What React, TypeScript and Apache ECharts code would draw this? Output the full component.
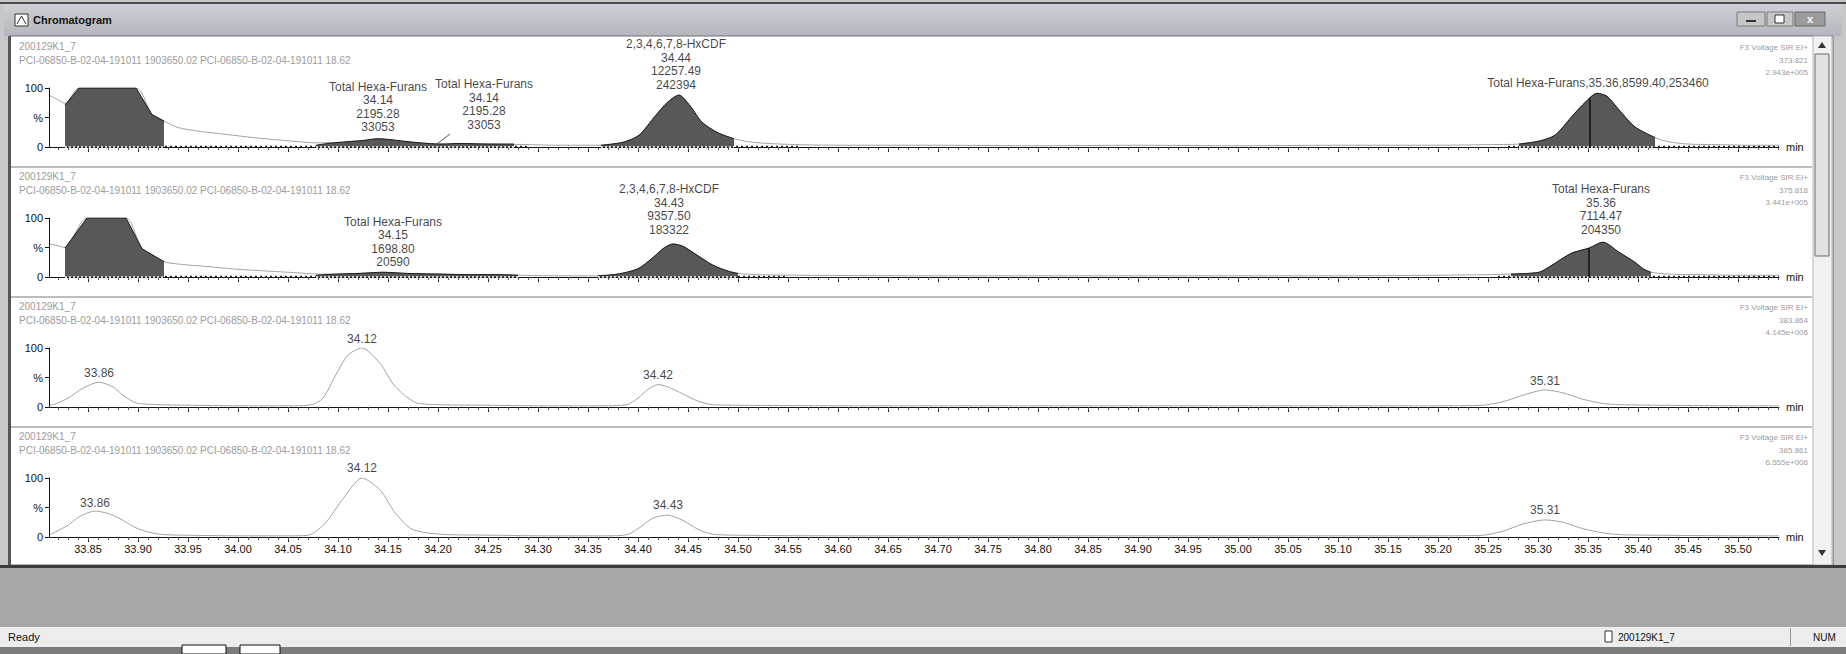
import React, { useEffect, useRef } from "react";
import * as echarts from "echarts";

// ---------- axis ----------
const X_MIN = 33.811;
const X_MAX = 35.541;
const xTickValues = [33.85, 33.9, 33.95, 34.0, 34.05, 34.1, 34.15, 34.2, 34.25, 34.3, 34.35, 34.4, 34.45, 34.5, 34.55, 34.6, 34.65, 34.7, 34.75, 34.8, 34.85, 34.9, 34.95, 35.0, 35.05, 35.1, 35.15, 35.2, 35.25, 35.3, 35.35, 35.4, 35.45, 35.5];
const xTickLabels = ["33.85", "33.90", "33.95", "34.00", "34.05", "34.10", "34.15", "34.20", "34.25", "34.30", "34.35", "34.40", "34.45", "34.50", "34.55", "34.60", "34.65", "34.70", "34.75", "34.80", "34.85", "34.90", "34.95", "35.00", "35.05", "35.10", "35.15", "35.20", "35.25", "35.30", "35.35", "35.40", "35.45", "35.50"];
const yTickValues = [0, 50, 100];
const yTickLabels = ["0", "%", "100"];

// ---------- panel headers ----------
const panelSample = ["200129K1_7", "200129K1_7", "200129K1_7", "200129K1_7"];
const panelFile = [
  "PCI-06850-B-02-04-191011 1903650.02 PCI-06850-B-02-04-191011 18.62",
  "PCI-06850-B-02-04-191011 1903650.02 PCI-06850-B-02-04-191011 18.62",
  "PCI-06850-B-02-04-191011 1903650.02 PCI-06850-B-02-04-191011 18.62",
  "PCI-06850-B-02-04-191011 1903650.02 PCI-06850-B-02-04-191011 18.62",
];
const panelFunction = ["F3 Voltage SIR EI+", "F3 Voltage SIR EI+", "F3 Voltage SIR EI+", "F3 Voltage SIR EI+"];
const panelMass = ["373.821", "375.818", "383.864", "385.861"];
const panelIntensity = ["2.943e+005", "3.441e+005", "4.145e+006", "6.555e+006"];

// ---------- panel 1 (m/z 373.821) ----------
const p1Trace = [
  [33.812, 87], [33.82, 80], [33.827, 74], [33.841, 100], [33.898, 100], [33.914, 55], [33.926, 44],
  [33.94, 33], [33.96, 27], [33.985, 22], [34.015, 16], [34.04, 12], [34.06, 9], [34.078, 7],
  [34.1, 8], [34.125, 11], [34.14, 14], [34.16, 11], [34.18, 7], [34.205, 5], [34.23, 6], [34.26, 5], [34.29, 4],
  [34.32, 3], [34.345, 3], [34.363, 3], [34.385, 8], [34.401, 20], [34.417, 52], [34.429, 75], [34.441, 88],
  [34.452, 70], [34.464, 42], [34.48, 24], [34.496, 14], [34.51, 9], [34.53, 6], [34.56, 4], [34.6, 3],
  [34.7, 3], [34.8, 2], [34.9, 3], [35.0, 2], [35.1, 3], [35.2, 3], [35.25, 4],
  [35.281, 5], [35.301, 10], [35.317, 20], [35.333, 50], [35.345, 72], [35.359, 91], [35.369, 86],
  [35.381, 63], [35.397, 34], [35.417, 16], [35.43, 9], [35.45, 5], [35.48, 4], [35.51, 3], [35.541, 3],
];
const p1FillSolvent = [[33.827, 71], [33.841, 100], [33.898, 100], [33.914, 55], [33.926, 44]];
const p1FillHump = [[34.078, 3], [34.09, 6], [34.11, 9], [34.125, 11], [34.14, 14], [34.155, 12], [34.17, 9], [34.19, 6], [34.205, 5], [34.22, 6], [34.25, 5], [34.276, 5]];
const p1FillHx = [[34.363, 3], [34.385, 8], [34.401, 20], [34.417, 52], [34.429, 75], [34.441, 88], [34.452, 70], [34.464, 42], [34.48, 24], [34.496, 14]];
const p1FillTotal = [[35.281, 5], [35.301, 10], [35.317, 20], [35.333, 50], [35.345, 72], [35.359, 91], [35.369, 86], [35.381, 63], [35.397, 34], [35.417, 16]];
const p1Baselines = [[33.827, 34.29], [34.363, 34.56], [35.27, 35.541]];
const p1Apex = [[35.352, 82]];
const p1Marks = [[[34.198, 4], [34.212, 22]]];
const p1Labels = [
  { t: 34.14, v: 14, d: 4, text: "Total Hexa-Furans\n34.14\n2195.28\n33053" },
  { t: 34.246, v: 20, d: 3, text: "Total Hexa-Furans\n34.14\n2195.28\n33053" },
  { t: 34.438, v: 88, d: 3, text: "2,3,4,6,7,8-HxCDF\n34.44\n12257.49\n242394" },
  { t: 35.36, v: 91, d: 3, text: "Total Hexa-Furans,35.36,8599.40,253460" },
];

// ---------- panel 2 (m/z 375.818) ----------
const p2Trace = [
  [33.812, 56], [33.82, 53], [33.827, 50], [33.849, 100], [33.888, 100], [33.904, 48], [33.926, 26],
  [33.94, 22], [33.96, 19], [33.98, 16], [34.0, 13], [34.02, 11], [34.04, 9], [34.06, 7], [34.078, 5],
  [34.1, 5], [34.12, 6], [34.145, 8], [34.17, 6], [34.2, 5], [34.23, 4], [34.26, 4], [34.28, 3], [34.32, 2],
  [34.36, 2], [34.38, 5], [34.4, 14], [34.415, 33], [34.425, 48], [34.435, 56], [34.445, 52], [34.46, 36],
  [34.475, 20], [34.49, 10], [34.5, 6], [34.52, 4], [34.56, 3], [34.7, 2], [34.9, 2], [35.1, 2], [35.2, 3],
  [35.25, 4], [35.273, 5], [35.301, 8], [35.313, 19], [35.333, 40], [35.351, 49], [35.365, 59], [35.381, 42],
  [35.397, 25], [35.405, 14], [35.413, 8], [35.43, 5], [35.46, 4], [35.5, 3], [35.541, 3],
];
const p2FillSolvent = [[33.827, 49], [33.849, 100], [33.888, 100], [33.904, 48], [33.926, 26]];
const p2FillHump = [[34.078, 3], [34.1, 5], [34.12, 6], [34.145, 8], [34.17, 6], [34.2, 5], [34.23, 4], [34.26, 4], [34.28, 3]];
const p2FillHx = [[34.36, 2], [34.38, 5], [34.4, 14], [34.415, 33], [34.425, 48], [34.435, 56], [34.445, 52], [34.46, 36], [34.475, 20], [34.49, 10], [34.5, 6]];
const p2FillTotal = [[35.273, 5], [35.301, 8], [35.313, 19], [35.333, 40], [35.351, 49], [35.365, 59], [35.381, 42], [35.397, 25], [35.405, 14], [35.413, 8]];
const p2Baselines = [[33.827, 34.28], [34.36, 34.55], [35.26, 35.541]];
const p2Apex = [[35.351, 49]];
const p2Marks: number[][][] = [];
const p2Labels = [
  { t: 34.155, v: 8, d: 3, text: "Total Hexa-Furans\n34.15\n1698.80\n20590" },
  { t: 34.431, v: 56, d: 7, text: "2,3,4,6,7,8-HxCDF\n34.43\n9357.50\n183322" },
  { t: 35.363, v: 59, d: 5, text: "Total Hexa-Furans\n35.36\n7114.47\n204350" },
];

// ---------- panel 3 (m/z 383.864) ----------
const p3Trace = [
  [33.812, 3], [33.817, 5], [33.83, 15], [33.845, 32], [33.861, 42], [33.875, 34], [33.885, 20], [33.898, 7],
  [33.92, 4], [33.95, 3], [34.0, 2], [34.05, 2], [34.074, 4], [34.085, 15], [34.098, 55], [34.11, 88],
  [34.124, 100], [34.142, 74], [34.157, 35], [34.177, 8], [34.2, 4], [34.25, 3], [34.3, 2], [34.36, 2],
  [34.389, 4], [34.4, 15], [34.41, 30], [34.42, 38], [34.43, 34], [34.445, 22], [34.46, 10], [34.474, 4],
  [34.5, 3], [34.6, 2], [34.7, 2], [34.8, 2], [34.9, 2], [35.0, 2], [35.1, 2], [35.2, 2], [35.245, 3],
  [35.265, 9], [35.285, 20], [35.307, 29], [35.325, 24], [35.345, 13], [35.365, 6], [35.381, 4], [35.42, 3],
  [35.5, 2], [35.541, 2],
];
const p3Labels = [
  { t: 33.861, v: 42, d: 2, text: "33.86" },
  { t: 34.124, v: 100, d: 2, text: "34.12" },
  { t: 34.42, v: 38, d: 2, text: "34.42" },
  { t: 35.307, v: 29, d: 2, text: "35.31" },
];

// ---------- panel 4 (m/z 385.861) ----------
const p4Trace = [
  [33.812, 4], [33.817, 8], [33.83, 20], [33.841, 34], [33.857, 44], [33.87, 40], [33.881, 32], [33.9, 14],
  [33.92, 5], [33.95, 3], [34.0, 2], [34.05, 2], [34.07, 3], [34.086, 21], [34.106, 67], [34.124, 100],
  [34.142, 80], [34.157, 41], [34.173, 14], [34.189, 7], [34.21, 4], [34.26, 3], [34.3, 2], [34.37, 2],
  [34.389, 4], [34.4, 14], [34.415, 32], [34.43, 37], [34.445, 28], [34.46, 13], [34.474, 5], [34.5, 3],
  [34.6, 2], [34.8, 2], [35.0, 2], [35.2, 2], [35.245, 3], [35.265, 10], [35.285, 22], [35.307, 29],
  [35.325, 25], [35.345, 14], [35.365, 7], [35.381, 4], [35.42, 3], [35.5, 2], [35.541, 2],
];
const p4Labels = [
  { t: 33.857, v: 44, d: 1, text: "33.86" },
  { t: 34.124, v: 100, d: 3, text: "34.12" },
  { t: 34.43, v: 37, d: 3, text: "34.43" },
  { t: 35.307, v: 29, d: 3, text: "35.31" },
];

const FONT = "'Liberation Sans', Arial, sans-serif";
const PLOT_LEFT = 49;
const PLOT_W = 1730;
const PANEL_TOP = 88;
const PANEL_PITCH = 130;
const PLOT_H = 59;

const xMinorTicks = Array.from({ length: 173 }, (_, i) => Math.round((33.82 + i * 0.01) * 100) / 100).filter(
  (v) => v <= X_MAX
);

function tickLabel(v: number) {
  const i = xTickValues.findIndex((t) => Math.abs(t - v) < 1e-6);
  return i >= 0 ? xTickLabels[i] : "";
}

function buildOption() {
  const panels = [
    { trace: p1Trace, fills: [p1FillSolvent, p1FillHump, p1FillHx, p1FillTotal], baselines: p1Baselines, apex: p1Apex, marks: p1Marks, labels: p1Labels },
    { trace: p2Trace, fills: [p2FillSolvent, p2FillHump, p2FillHx, p2FillTotal], baselines: p2Baselines, apex: p2Apex, marks: p2Marks, labels: p2Labels },
    { trace: p3Trace, fills: [], baselines: [], apex: [], marks: [], labels: p3Labels },
    { trace: p4Trace, fills: [], baselines: [], apex: [], marks: [], labels: p4Labels },
  ];

  const grid: any[] = [];
  const xAxis: any[] = [];
  const yAxis: any[] = [];
  const series: any[] = [];

  panels.forEach((p, k) => {
    grid.push({ left: PLOT_LEFT, width: PLOT_W, top: PANEL_TOP + PANEL_PITCH * k, height: PLOT_H });
    xAxis.push({
      gridIndex: k,
      type: "value",
      min: X_MIN,
      max: X_MAX,
      position: "bottom",
      axisLine: { show: true, onZero: false, lineStyle: { color: "#111", width: 1 } },
      axisTick: { show: true, customValues: xTickValues, length: 5, lineStyle: { color: "#222" } },
      axisLabel: {
        show: k === 3,
        customValues: xTickValues,
        formatter: (v: number) => tickLabel(v),
        fontSize: 11,
        color: "#111",
        fontFamily: FONT,
        margin: 6,
      },
      splitLine: { show: false },
      name: "min",
      nameLocation: "end",
      nameGap: 7,
      nameTextStyle: { fontSize: 11, color: "#111", fontFamily: FONT },
    });
    xAxis.push({
      gridIndex: k,
      type: "value",
      min: X_MIN,
      max: X_MAX,
      position: "bottom",
      axisLine: { show: false },
      axisTick: { show: true, customValues: xMinorTicks, length: 3, lineStyle: { color: "#555" } },
      axisLabel: { show: false },
      splitLine: { show: false },
    });
    yAxis.push({
      gridIndex: k,
      type: "value",
      min: 0,
      max: 100,
      interval: 50,
      axisLine: { show: true, lineStyle: { color: "#111", width: 1 } },
      axisTick: { show: true, length: 4, lineStyle: { color: "#111" } },
      axisLabel: {
        formatter: (v: number) => yTickLabels[yTickValues.indexOf(v)] ?? "",
        fontSize: 11,
        color: "#111",
        fontFamily: FONT,
        margin: 6,
      },
      splitLine: { show: false },
    });

    const xi = 2 * k;
    series.push({
      type: "line",
      xAxisIndex: xi,
      yAxisIndex: k,
      data: p.trace,
      showSymbol: false,
      silent: true,
      smooth: 0.25,
      lineStyle: { color: "#a3a3a3", width: 1 },
      z: 2,
    });
    p.baselines.forEach((b) => {
      series.push({
        type: "line",
        xAxisIndex: xi,
        yAxisIndex: k,
        data: [[b[0], 0.8], [b[1], 0.8]],
        showSymbol: false,
        silent: true,
        lineStyle: { color: "#222", width: 1.5, type: [2, 3] },
        z: 3,
      });
    });
    p.fills.forEach((f, fi) => {
      const markData: any[] = [
        [
          { coord: [f[0][0], 1.2], lineStyle: { color: "#fff", width: 1.5, type: [2, 2] } },
          { coord: [f[f.length - 1][0], 1.2] },
        ],
      ];
      p.apex.forEach((a) => {
        if (a[0] > f[0][0] && a[0] < f[f.length - 1][0]) {
          markData.push([
            { coord: [a[0], 0], lineStyle: { color: "#111", width: 1.5, type: "solid" } },
            { coord: [a[0], a[1]] },
          ]);
        }
      });
      series.push({
        type: "line",
        xAxisIndex: xi,
        yAxisIndex: k,
        data: f,
        showSymbol: false,
        silent: true,
        smooth: fi === 0 ? false : 0.25,
        lineStyle: { color: "#1a1a1a", width: 1 },
        areaStyle: { color: "#585858", opacity: 1 },
        z: 4,
        markLine: {
          silent: true,
          symbol: ["none", "none"],
          label: { show: false },
          animation: false,
          data: markData,
        },
      });
    });
    p.marks.forEach((m) => {
      series.push({
        type: "line",
        xAxisIndex: xi,
        yAxisIndex: k,
        data: m,
        showSymbol: false,
        silent: true,
        lineStyle: { color: "#555", width: 1 },
        z: 4,
      });
    });
    series.push({
      type: "scatter",
      xAxisIndex: xi,
      yAxisIndex: k,
      symbolSize: 1,
      itemStyle: { color: "rgba(0,0,0,0)" },
      silent: true,
      z: 6,
      data: p.labels.map((l) => ({
        value: [l.t, l.v],
        name: l.text,
        label: { distance: l.d },
      })),
      label: {
        show: true,
        position: "top",
        formatter: "{b}",
        fontSize: 12,
        lineHeight: 13.5,
        color: "#111",
        fontFamily: FONT,
        align: "center",
      },
    });
  });

  // ---------- window chrome ----------
  const txt = (x: number, y: number, text: string, o: any = {}) => ({
    type: "text",
    z: o.z ?? 1,
    style: {
      x,
      y,
      text,
      fill: o.fill ?? "#111",
      fontSize: o.fontSize ?? 11,
      fontFamily: FONT,
      fontWeight: o.fontWeight ?? "normal",
      align: o.align ?? "left",
      textAlign: o.align ?? "left",
      verticalAlign: "middle",
      textVerticalAlign: "middle",
    },
  });
  const rect = (x: number, y: number, w: number, h: number, fill: any, stroke?: string, z = 0, lw = 1) => ({
    type: "rect",
    z,
    shape: { x, y, width: w, height: h },
    style: { fill, stroke: stroke ?? null, lineWidth: lw },
  });

  const graphic: any[] = [
    rect(0, 0, 1846, 654, "#c7c7c7", undefined, -5),
    rect(0, 2, 1846, 2, "#4a4a4a", undefined, -4),
    rect(4, 4, 1838, 32, new echarts.graphic.LinearGradient(0, 0, 0, 1, [
      { offset: 0, color: "#cdd0d5" },
      { offset: 1, color: "#b3b7bd" },
    ]), undefined, -4),
    rect(15, 14, 13, 12, "#ffffff", "#333", -3),
    { type: "polyline", z: -2, shape: { points: [[17, 24], [21.5, 16], [26, 24]] }, style: { stroke: "#333", fill: null, lineWidth: 1 } },
    txt(33, 20, "Chromatogram", { fontWeight: "bold", fontSize: 11 }),
    rect(1737, 12, 28, 14, "#c6c6c6", "#7a7a7a", -3),
    rect(1746, 20, 10, 2, "#333", undefined, -2),
    rect(1767, 12, 26, 14, "#c6c6c6", "#7a7a7a", -3),
    rect(1775, 15, 9, 8, "#ffffff", "#333", -2),
    rect(1795, 12, 30, 14, "#9b9b9b", "#6a6a6a", -3),
    txt(1810, 19, "x", { align: "center", fill: "#fff", fontWeight: "bold", fontSize: 11 }),
    rect(10, 36, 1823, 529, "#ffffff", "#6e6e6e", -4),
    rect(8, 36, 3, 529, "#555555", undefined, -3),
    rect(1813, 36, 19, 529, "#f1f1f1", "#b5b5b5", -3),
    rect(1815, 54, 14, 202, "#e2e2e2", "#6a6a6a", -2),
    { type: "polygon", z: -2, shape: { points: [[1818, 48], [1826, 48], [1822, 42]] }, style: { fill: "#333" } },
    { type: "polygon", z: -2, shape: { points: [[1818, 550], [1826, 550], [1822, 556]] }, style: { fill: "#333" } },
    rect(0, 565, 1846, 3, "#3c3c3c", undefined, -3),
    rect(0, 568, 1846, 59, "#a7a7a7", undefined, -3),
    rect(0, 627, 1846, 20, "#ededed", undefined, -3),
    txt(8, 637, "Ready", { fontSize: 11 }),
    rect(1605, 631, 7, 11, "#ffffff", "#333", -2),
    txt(1618, 637, "200129K1_7", { fontSize: 10 }),
    rect(1790, 628, 1, 18, "#9a9a9a", undefined, -2),
    txt(1813, 637, "NUM", { fontSize: 10 }),
    rect(0, 647, 1846, 7, "#7c7c7c", undefined, -3),
    rect(182, 645, 44, 9, "#ffffff", "#111", -2),
    rect(240, 645, 40, 9, "#ffffff", "#111", -2),
  ];
  [167, 297, 427].forEach((y) => graphic.push(rect(11, y - 1, 1801, 2, "#bdbdbd", undefined, -2)));
  for (let k = 0; k < 4; k++) {
    const o = PANEL_PITCH * k;
    graphic.push(txt(19, 46 + o, panelSample[k], { fill: "#9c9c9c", fontSize: 10 }));
    graphic.push(txt(19, 60 + o, panelFile[k], { fill: "#9c9c9c", fontSize: 10 }));
    graphic.push(txt(1808, 47 + o, panelFunction[k], { fill: "#9c9c9c", fontSize: 8, align: "right" }));
    graphic.push(txt(1808, 60 + o, panelMass[k], { fill: "#9c9c9c", fontSize: 8, align: "right" }));
    graphic.push(txt(1808, 72 + o, panelIntensity[k], { fill: "#9c9c9c", fontSize: 8, align: "right" }));
  }

  return {
    animation: false,
    backgroundColor: "transparent",
    textStyle: { fontFamily: FONT },
    grid,
    xAxis,
    yAxis,
    series,
    graphic: { elements: graphic },
  };
}

export default function App() {
  const ref = useRef<HTMLDivElement>(null);
  useEffect(() => {
    const chart = echarts.init(ref.current as HTMLDivElement, null, { renderer: "svg" });
    chart.setOption(buildOption() as any);
    return () => chart.dispose();
  }, []);
  return <div ref={ref} style={{ position: "absolute", left: 0, top: 0, width: 1846, height: 654 }} />;
}
